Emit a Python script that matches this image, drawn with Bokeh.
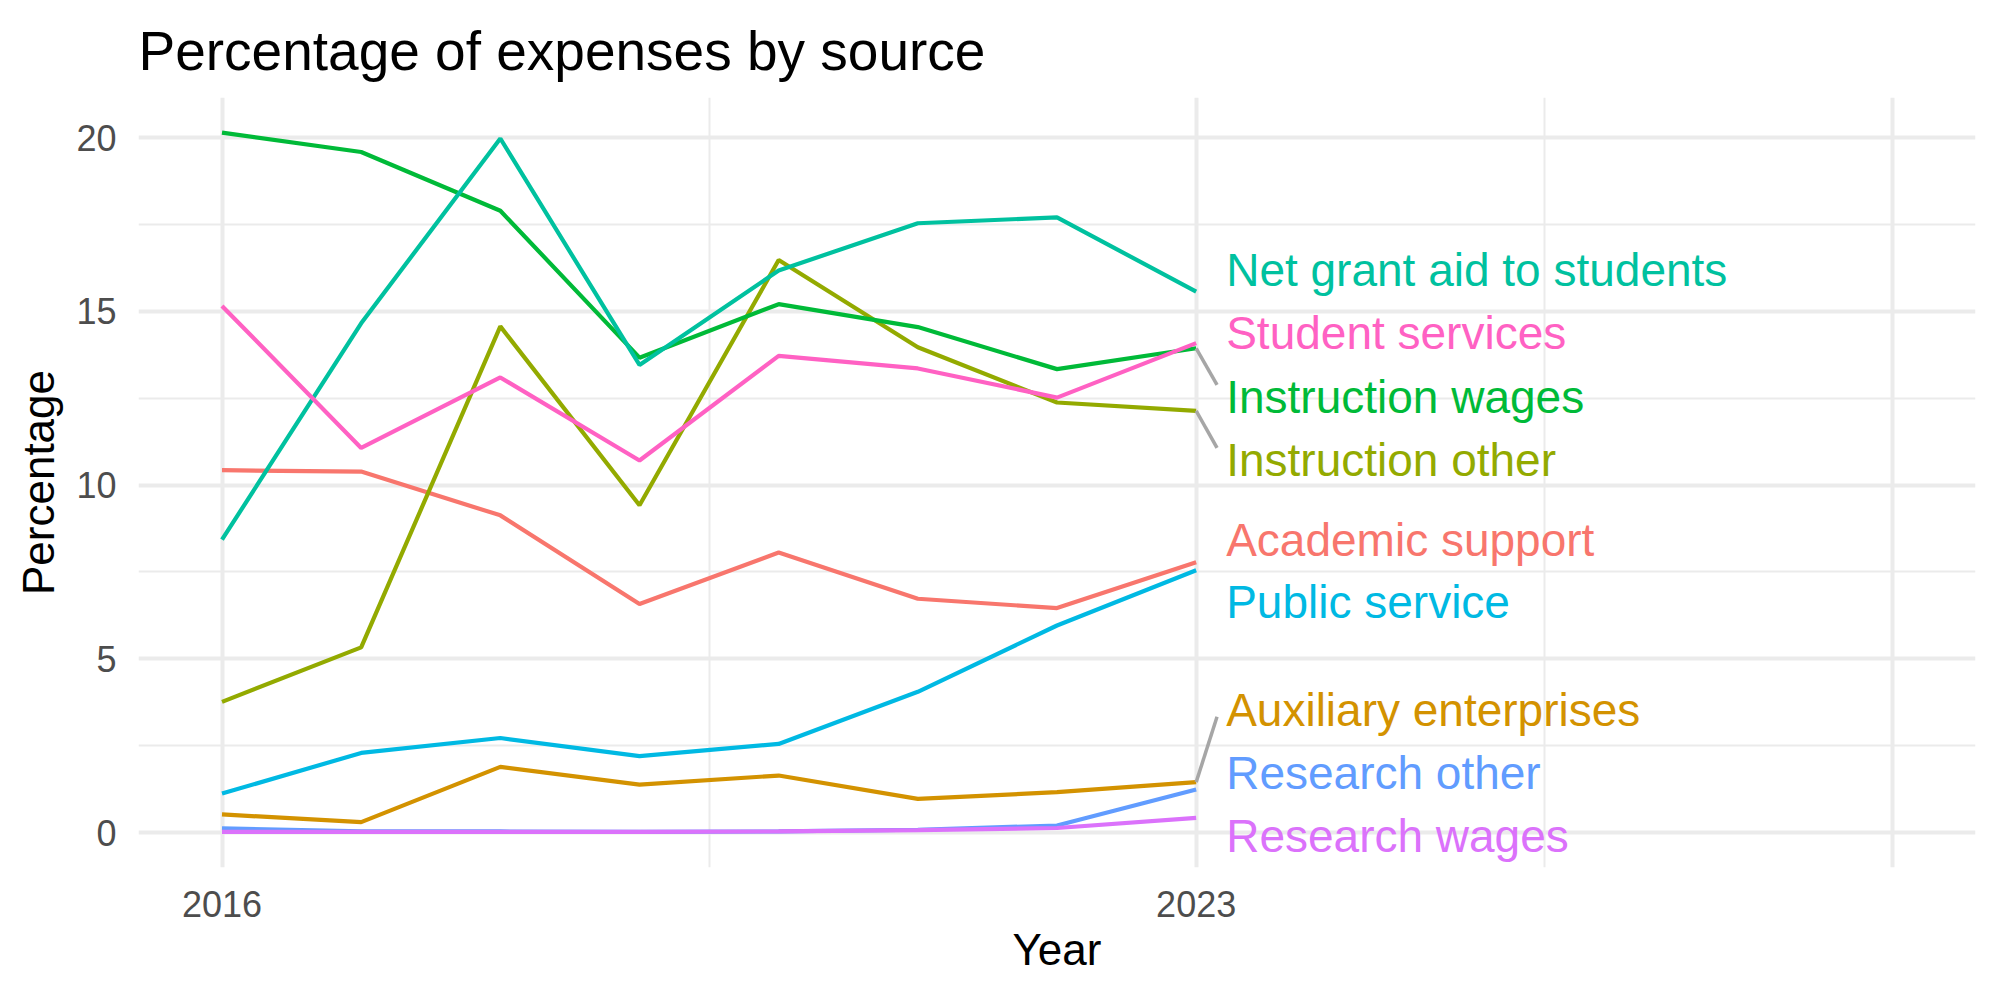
from bokeh.plotting import figure
from bokeh.models import FixedTicker, Range1d, ColumnDataSource
from bokeh.core.properties import value
from bokeh.embed import file_html
from bokeh.resources import INLINE

# Share of total expenses (%) by source, 2016-2023
years = [2016, 2017, 2018, 2019, 2020, 2021, 2022, 2023]

academic_support = [10.43, 10.39, 9.13, 6.58, 8.06, 6.73, 6.46, 7.78]
auxiliary_enterprises = [0.52, 0.30, 1.89, 1.38, 1.64, 0.97, 1.16, 1.45]
instruction_other = [3.76, 5.33, 14.57, 9.42, 16.48, 13.97, 12.38, 12.14]
instruction_wages = [20.15, 19.59, 17.90, 13.67, 15.21, 14.55, 13.34, 13.94]
net_grant_aid = [8.43, 14.66, 19.98, 13.46, 16.18, 17.54, 17.71, 15.57]
public_service = [1.12, 2.29, 2.72, 2.20, 2.55, 4.05, 5.96, 7.55]
research_other = [0.12, 0.03, 0.03, 0.02, 0.03, 0.08, 0.20, 1.24]
research_wages = [0.02, 0.02, 0.02, 0.02, 0.03, 0.07, 0.13, 0.42]
student_services = [15.16, 11.07, 13.10, 10.71, 13.72, 13.36, 12.52, 14.09]

series_names = [
    "Academic support", "Auxiliary enterprises", "Instruction other",
    "Instruction wages", "Net grant aid to students", "Public service",
    "Research other", "Research wages", "Student services",
]
series_values = [
    academic_support, auxiliary_enterprises, instruction_other,
    instruction_wages, net_grant_aid, public_service,
    research_other, research_wages, student_services,
]
palette = ["#F8766D", "#D39200", "#93AA00", "#00BA38", "#00C19F",
           "#00B9E3", "#619CFF", "#DB72FB", "#FF61C3"]

# repelled end-label heights (data units), same order as series_names
label_y = [8.43, 3.52, 10.73, 12.55, 16.18, 6.64, 1.71, -0.09, 14.38]

FONT = "Liberation Sans"

p = figure(
    frame_width=1837, frame_height=770,
    min_border_left=138, min_border_right=25,
    min_border_top=97, min_border_bottom=133,
    x_range=Range1d(2015.4, 2028.6), y_range=Range1d(-1.0075, 21.16),
    output_backend="svg", toolbar_location=None,
    title="Percentage of expenses by source",
)
p.outline_line_color = None
p.background_fill_color = "white"
p.border_fill_color = "white"

p.title.text_font = FONT
p.title.text_font_size = "55px"
p.title.text_font_style = "normal"
p.title.text_color = "black"
p.title.align = "left"
p.title.offset = 0
p.title.standoff = 31

p.xaxis.ticker = FixedTicker(ticks=[2016, 2023, 2028], minor_ticks=[2019.5, 2025.5])
p.xaxis.major_label_overrides = {2016: "2016", 2023: "2023", 2028: ""}
p.yaxis.ticker = FixedTicker(ticks=[0, 5, 10, 15, 20], minor_ticks=[2.5, 7.5, 12.5, 17.5])
p.xaxis.axis_label = "Year"
p.yaxis.axis_label = "Percentage"

for ax in (p.xaxis, p.yaxis):
    ax.axis_line_color = None
    ax.major_tick_line_color = None
    ax.minor_tick_line_color = None
    ax.major_tick_out = 0
    ax.minor_tick_out = 0
    ax.major_label_text_font = FONT
    ax.major_label_text_font_size = "36px"
    ax.major_label_text_color = "#4D4D4D"
    ax.axis_label_text_font = FONT
    ax.axis_label_text_font_size = "44px"
    ax.axis_label_text_font_style = "normal"
    ax.axis_label_text_color = "black"

p.xaxis.major_label_standoff = 23
p.xaxis.axis_label_standoff = 5
p.yaxis.major_label_standoff = 22
p.yaxis.axis_label_standoff = 10

for g in (p.xgrid, p.ygrid):
    g.grid_line_color = "#EBEBEB"
    g.grid_line_width = 4
    g.minor_grid_line_color = "#EBEBEB"
    g.minor_grid_line_width = 2

# one line per source
for name, vals, col in zip(series_names, series_values, palette):
    p.line(years, vals, line_color=col, line_width=4.2)

# leader segments for labels pushed away from their end point
last_year = years[-1]
seg_x0, seg_y0, seg_x1, seg_y1 = [], [], [], []
for vals, ly in zip(series_values, label_y):
    end_val = vals[-1]
    if abs(ly - end_val) > 1.2:
        seg_x0.append(last_year)
        seg_y0.append(end_val)
        seg_x1.append(last_year + 0.15)
        seg_y1.append(ly + (0.34 if ly < end_val else -0.19))
p.segment(seg_x0, seg_y0, seg_x1, seg_y1, line_color="#A6A6A6", line_width=3.5)

labels = ColumnDataSource(dict(
    x=[last_year] * len(series_names), y=label_y,
    text=series_names, color=palette,
))
p.text(x="x", y="y", text="text", source=labels, text_color="color",
       x_offset=30, text_align="left", text_baseline="middle",
       text_font=value(FONT), text_font_size=value("46px"))

open("out.html", "w").write(file_html(p, INLINE))
